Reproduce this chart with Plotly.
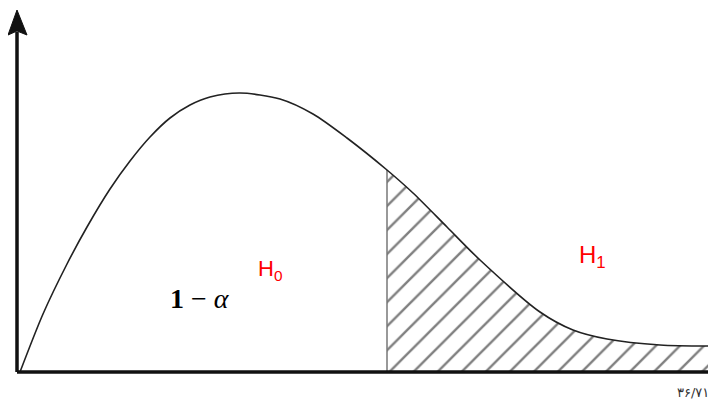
import plotly.graph_objects as go

# density curve (x in px, height above the baseline)
curve_x = [20, 43, 67, 87, 110, 130, 150, 170, 190, 210, 240, 280, 313, 347,
           387, 413, 447, 480, 540, 573, 607, 660, 716]
curve_h = [0, 58, 108, 145, 183, 211, 235, 254, 267, 275, 279, 273, 258, 234,
           202, 179, 145, 112, 60, 42, 33, 27, 26]
critical_x = 387

labels = {"h0": "H<sub>0</sub>", "h1": "H<sub>1</sub>", "conf": "<b>1</b> − <i>α</i>"}
page_no = "۳۶/۷۱"

tail_x = [x for x in curve_x if x >= critical_x]
tail_h = [h for x, h in zip(curve_x, curve_h) if x >= critical_x]
crit_h = curve_h[curve_x.index(critical_x)]

fig = go.Figure()

# hatched rejection region
fig.add_trace(go.Scatter(x=tail_x, y=tail_h, mode="lines", line=dict(width=0, shape="spline"),
                         fill="tozeroy", fillcolor="white",
                         fillpattern=dict(shape="/", size=17, solidity=0.14,
                                          fgcolor="#000", bgcolor="white")))

fig.add_trace(go.Scatter(x=[critical_x, critical_x], y=[0, crit_h], mode="lines",
                         line=dict(color="#777", width=1.5)))

fig.add_trace(go.Scatter(x=curve_x, y=curve_h, mode="lines",
                         line=dict(color="#222", width=1.6, shape="spline", smoothing=0.8)))

# axes drawn by hand, with an arrow on the vertical one
fig.add_shape(type="line", x0=17, x1=724, y0=0, y1=0, line=dict(color="#111", width=3.5))
fig.add_shape(type="line", x0=17, x1=17, y0=0, y1=340, line=dict(color="#111", width=3.5))
fig.add_shape(type="path", path="M 8 337 L 17 362 L 27 337 L 17 341 Z",
              fillcolor="#111", line=dict(color="#111", width=1))

fig.add_annotation(x=270, y=102, text=labels["h0"], showarrow=False,
                   font=dict(family="Liberation Sans", size=22, color="red"))
fig.add_annotation(x=592, y=116, text=labels["h1"], showarrow=False,
                   font=dict(family="Liberation Sans", size=24, color="red"))
fig.add_annotation(x=200, y=74, text=labels["conf"], showarrow=False,
                   font=dict(family="Liberation Serif", size=28, color="#000"))
fig.add_annotation(x=693, y=-20, text=page_no, showarrow=False,
                   font=dict(family="DejaVu Sans", size=13, color="#333"))

# the page body has an 8px margin, so the ranges are shifted to line up
fig.update_xaxes(range=[8, 724], visible=False)
fig.update_yaxes(range=[-43, 364], visible=False)
fig.update_layout(width=716, height=407, margin=dict(l=0, r=0, t=0, b=0),
                  plot_bgcolor="white", paper_bgcolor="white", showlegend=False)

fig.write_html("out.html")
